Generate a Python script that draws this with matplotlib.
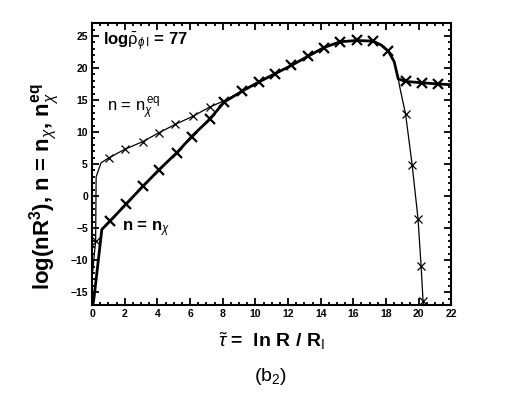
import matplotlib
matplotlib.use("Agg")
import matplotlib.pyplot as plt
from matplotlib.ticker import MultipleLocator

plt.rcParams['font.family'] = ['Liberation Sans', 'DejaVu Sans']
plt.rcParams['mathtext.fontset'] = 'custom'
plt.rcParams['mathtext.rm'] = 'Liberation Sans'
plt.rcParams['mathtext.it'] = 'Liberation Sans:italic'
plt.rcParams['mathtext.bf'] = 'Liberation Sans:bold'

# n = n_chi (gruba linia)
tau_chi = [0.05, 0.12, 0.6, 1.1, 2.1, 3.1, 4.1, 5.2, 6.1, 7.2, 8.1, 9.2, 10.2,
           11.2, 12.2, 13.2, 14.2, 15.2, 16.2, 17.2, 17.7, 18.15, 18.5, 18.75,
           19.2, 20.2, 21.2, 22.0]
log_chi = [-17.0, -15.9, -5.2, -3.9, -1.2, 1.5, 4.1, 6.8, 9.3, 12.0, 14.7, 16.4,
           17.8, 19.1, 20.4, 21.8, 23.2, 24.1, 24.3, 24.2, 23.6, 22.6, 21.0, 18.3,
           17.9, 17.7, 17.5, 17.4]
# znaczniki na grubej linii
tau_chi_m = [1.1, 2.1, 3.1, 4.1, 5.2, 6.1, 7.2, 8.1, 9.2, 10.2, 11.2, 12.2, 13.2,
             14.2, 15.2, 16.2, 17.2, 18.15, 19.2, 20.2, 21.2]
log_chi_m = [-3.9, -1.2, 1.5, 4.1, 6.8, 9.3, 12.0, 14.7, 16.4, 17.8, 19.1, 20.4,
             21.8, 23.2, 24.1, 24.3, 24.2, 22.6, 17.9, 17.7, 17.5]

# n = n_chi^eq (cienka linia)
tau_eq = [0.03, 0.22, 0.25, 0.55, 1.05, 2.0, 3.1, 4.1, 5.1, 6.2, 7.2, 8.1, 9.2,
          10.2, 11.2, 12.2, 13.2, 14.2, 15.2, 16.2, 17.2, 17.7, 18.15, 18.5,
          18.75, 18.87, 19.2, 19.6, 19.96, 20.15, 20.27, 20.32]
log_eq = [-12.0, -7.0, 3.0, 5.2, 6.0, 7.3, 8.5, 9.9, 11.2, 12.5, 13.9, 14.9, 16.4,
          17.8, 19.1, 20.4, 21.8, 23.2, 24.1, 24.3, 24.2, 23.6, 22.6, 21.0, 18.3,
          16.7, 12.8, 4.9, -3.5, -10.9, -16.4, -17.5]
# znaczniki na cienkiej linii
tau_eq_m = [0.22, 1.05, 2.0, 3.1, 4.1, 5.1, 6.2, 7.2, 19.2, 19.6, 19.96, 20.15, 20.27]
log_eq_m = [-7.0, 6.0, 7.3, 8.5, 9.9, 11.2, 12.5, 13.9, 12.8, 4.9, -3.5, -10.9, -16.4]

fig = plt.figure(figsize=(5.26, 3.93), dpi=100)
ax = fig.add_axes([0.175, 0.224, 0.683, 0.717])

ax.plot(tau_eq, log_eq, color='k', lw=0.9)
ax.plot(tau_eq_m, log_eq_m, 'x', color='k', ms=6, mew=0.9)
ax.plot(tau_chi, log_chi, color='k', lw=2.0)
ax.plot(tau_chi_m, log_chi_m, 'x', color='k', ms=7, mew=1.6)

ax.set_xlim(0, 22)
ax.set_ylim(-17, 27)
ax.xaxis.set_major_locator(MultipleLocator(2))
ax.xaxis.set_minor_locator(MultipleLocator(0.5))
ax.yaxis.set_major_locator(MultipleLocator(5))
ax.yaxis.set_minor_locator(MultipleLocator(1))
ax.tick_params(which='both', direction='in', top=True, right=True, width=1.3)
ax.tick_params(which='major', length=5, labelsize=7.5, pad=3)
ax.tick_params(which='minor', length=2.5)
for lab in ax.get_xticklabels() + ax.get_yticklabels():
    lab.set_fontweight('bold')
for s in ax.spines.values():
    s.set_linewidth(1.5)

ax.text(0.65, 24.2, r'log$\bar{\mathrm{\rho}}_{\phi\,\mathrm{I}}$ = 77', fontsize=12,
        fontweight='bold', va='center')
ax.text(0.9, 13.6, r'n = n$_{\chi}^{\,\mathrm{eq}}$', fontsize=12, va='center')
ax.text(1.85, -5.2, r'n = n$_{\chi}$', fontsize=12, fontweight='bold', va='center')

ax.set_ylabel(r'log(nR$^\mathbf{3}$), n = n$_\chi$, n$_\chi^\mathbf{eq}$',
              fontsize=16, fontweight='bold')
ax.yaxis.set_label_coords(-0.085, 0.42)
ax.set_xlabel(r'$\tilde{\tau}$ =  ln R / R$_\mathrm{I}$', fontsize=14,
              fontweight='bold', labelpad=8)
fig.text(0.515, 0.03, r'(b$_2$)', fontsize=14, ha='center')

fig.savefig('out.png', dpi=100)
